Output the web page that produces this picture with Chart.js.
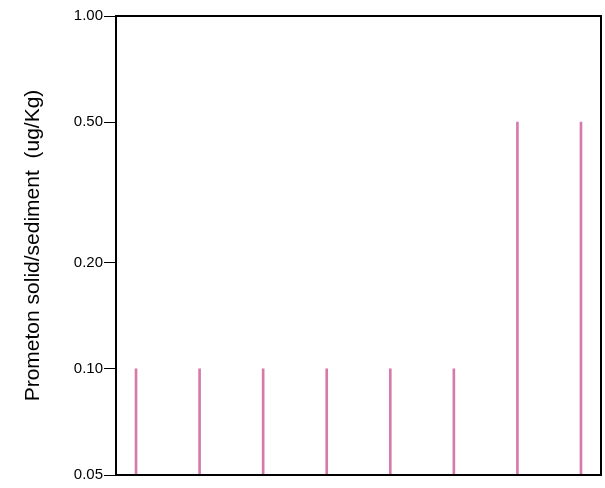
<!DOCTYPE html>
<html>
<head>
<meta charset="utf-8">
<script src="https://cdn.jsdelivr.net/npm/chart.js@4"></script>
<style>
  html, body { margin: 0; padding: 0; background: #fff; }
  #wrap { width: 605px; height: 488px; }
</style>
</head>
<body>
<div id="wrap"><canvas id="myChart" width="605" height="488"></canvas></div>
<script>
// samples along the x axis (no labels shown in the original)
const samples = [1, 2, 3, 4, 5, 6, 7, 8];
// prometon values, ug/Kg
const prometon = [0.1, 0.1, 0.1, 0.1, 0.1, 0.1, 0.5, 0.5];
const yTicks = [0.05, 0.1, 0.2, 0.5, 1.0];
const yMin = 0.05, yMax = 1.0;

const frame = {
  id: 'frame',
  afterDraw(chart) {
    const a = chart.chartArea, c = chart.ctx;
    c.save();
    c.strokeStyle = '#000';
    c.lineWidth = 2;
    c.strokeRect(a.left, a.top, a.right - a.left, a.bottom - a.top);
    c.restore();
  }
};

const ctx = document.getElementById('myChart');

new Chart(ctx, {
  type: 'bar',
  data: {
    datasets: [{
      data: samples.map((s, i) => ({ x: s, y: [yMin, prometon[i]] })),
      backgroundColor: '#d67aaa',
      borderWidth: 0,
      barThickness: 2
    }]
  },
  options: {
    responsive: false,
    animation: false,
    layout: { padding: { left: 0, right: 4, top: 16, bottom: 13 } },
    plugins: { legend: { display: false }, tooltip: { enabled: false } },
    scales: {
      x: {
        type: 'linear',
        min: 0.685,
        max: 8.315,
        offset: false,
        display: false
      },
      y: {
        type: 'logarithmic',
        min: yMin,
        max: yMax,
        afterBuildTicks: (scale) => { scale.ticks = yTicks.map(v => ({ value: v })); },
        afterFit: (scale) => { scale.width = 116; },
        ticks: {
          color: '#000',
          font: { family: 'Liberation Sans, Arial, sans-serif', size: 15 },
          padding: 1,
          autoSkip: false,
          callback: (v) => Number(v).toFixed(2)
        },
        grid: { drawOnChartArea: false, drawTicks: true, tickLength: 12, color: '#000', lineWidth: 1 },
        border: { display: true, color: '#000', width: 2 },
        title: {
          display: true,
          text: 'Prometon solid/sediment  (ug/Kg)',
          color: '#000',
          font: { family: 'Liberation Sans, Arial, sans-serif', size: 21 },
          padding: { top: 21, bottom: 0 }
        }
      }
    }
  },
  plugins: [frame]
});
</script>
</body>
</html>
